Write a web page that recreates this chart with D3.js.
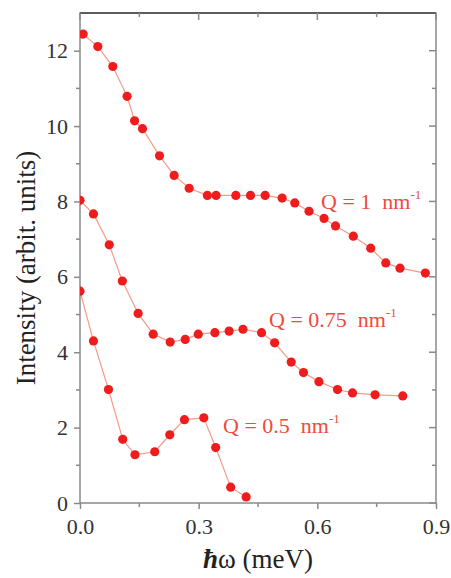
<!DOCTYPE html>
<meta charset="utf-8">
<title>Intensity vs energy</title>
<style>
body {
  margin: 0;
  background: #fff;
}
svg text {
  font-family: "Liberation Serif", "Times New Roman", serif;
  white-space: pre;
}
.tick-label {
  font-size: 22px;
  fill: #333;
}
.axis-title {
  font-size: 27px;
  fill: #222;
}
.series-label {
  font-size: 22px;
  fill: #f04a3a;
}
</style>
<body>
<svg width="451" height="578"></svg>

<script src="https://d3js.org/d3.v7.min.js"></script>
<script>
// Q = 1 nm^-1
var q1X = [0.008, 0.045, 0.083, 0.119, 0.138, 0.158, 0.201, 0.238, 0.276, 0.322, 0.344, 0.394, 0.431, 0.468, 0.511,
           0.543, 0.579, 0.617, 0.646, 0.691, 0.735, 0.773, 0.809, 0.873];
var q1Y = [12.44, 12.11, 11.58, 10.79, 10.14, 9.93, 9.21, 8.69, 8.35, 8.16, 8.16, 8.16, 8.16, 8.16, 8.09,
           7.96, 7.74, 7.55, 7.35, 7.08, 6.76, 6.37, 6.23, 6.10];

// Q = 0.75 nm^-1
var q075X = [0.0, 0.034, 0.074, 0.107, 0.147, 0.185, 0.228, 0.266, 0.299, 0.341, 0.377, 0.412, 0.459, 0.492,
             0.534, 0.565, 0.604, 0.651, 0.689, 0.746, 0.816];
var q075Y = [8.03, 7.67, 6.85, 5.89, 5.03, 4.48, 4.27, 4.34, 4.48, 4.52, 4.56, 4.61, 4.52, 4.25,
             3.74, 3.46, 3.22, 3.01, 2.92, 2.87, 2.84];

// Q = 0.5 nm^-1
var q05X = [0.0, 0.034, 0.072, 0.108, 0.139, 0.189, 0.227, 0.264, 0.313, 0.343, 0.381, 0.420];
var q05Y = [5.62, 4.30, 3.01, 1.69, 1.28, 1.36, 1.81, 2.21, 2.26, 1.47, 0.42, 0.16];

var seriesLabels = ["Q = 1  nm", "Q = 0.75  nm", "Q = 0.5  nm"];

var xTicks = [0, 0.3, 0.6, 0.9];
var xMinor = [0.15, 0.45, 0.75];
var yTicks = [0, 2, 4, 6, 8, 10, 12];
var yMinor = [1, 3, 5, 7, 9, 11];

var svg = d3.select("svg");
var pLeft = 80, pRight = 436, pTop = 13, pBottom = 503;

var x = d3.scaleLinear().domain([0, 0.9]).range([pLeft, pRight]);
var y = d3.scaleLinear().domain([0, 13]).range([pBottom, pTop]);

var axisColor = "#8a8a8a";

// frame
svg.append("rect")
    .attr("x", pLeft).attr("y", pTop)
    .attr("width", pRight - pLeft).attr("height", pBottom - pTop)
    .attr("fill", "none").attr("stroke", axisColor).attr("stroke-width", 1.5);
svg.append("line")
    .attr("x1", pLeft).attr("x2", pRight).attr("y1", pTop).attr("y2", pTop)
    .attr("stroke", "#444").attr("stroke-width", 1.5);

// bottom axis, ticks outward
var bx = svg.append("g").attr("transform", "translate(0," + pBottom + ")")
    .call(d3.axisBottom(x).tickValues(xTicks).tickSize(6).tickPadding(4).tickFormat(d3.format(".1f")));
bx.attr("font-family", null).attr("font-size", null);
bx.select(".domain").remove();
bx.selectAll("line").attr("stroke", axisColor).attr("stroke-width", 1.5);
bx.selectAll("text").attr("class", "tick-label").attr("fill", null).attr("dy", "0.95em")
    .style("font-family", "'Liberation Serif', 'Times New Roman', serif");
svg.append("g").selectAll("line").data(xMinor).enter().append("line")
    .attr("x1", x).attr("x2", x).attr("y1", pBottom).attr("y2", pBottom + 4)
    .attr("stroke", axisColor).attr("stroke-width", 1.5);

// top axis, ticks inward
svg.append("g").selectAll("line").data(xTicks.concat(xMinor)).enter().append("line")
    .attr("x1", x).attr("x2", x).attr("y1", pTop)
    .attr("y2", function(d) { return pTop + (xTicks.indexOf(d) >= 0 ? 7 : 4); })
    .attr("stroke", axisColor).attr("stroke-width", 1.5);

// left axis, ticks outward
var ly = svg.append("g").attr("transform", "translate(" + pLeft + ",0)")
    .call(d3.axisLeft(y).tickValues(yTicks).tickSize(6).tickPadding(6));
ly.attr("font-family", null).attr("font-size", null);
ly.select(".domain").remove();
ly.selectAll("line").attr("stroke", axisColor).attr("stroke-width", 1.5);
ly.selectAll("text").attr("class", "tick-label").attr("fill", null)
    .style("font-family", "'Liberation Serif', 'Times New Roman', serif");
svg.append("g").selectAll("line").data(yMinor).enter().append("line")
    .attr("x1", pLeft - 4).attr("x2", pLeft).attr("y1", y).attr("y2", y)
    .attr("stroke", axisColor).attr("stroke-width", 1.5);

// right axis, ticks inward
svg.append("g").selectAll("line").data(yTicks.concat(yMinor)).enter().append("line")
    .attr("x1", function(d) { return pRight - (yTicks.indexOf(d) >= 0 ? 7 : 4); })
    .attr("x2", pRight).attr("y1", y).attr("y2", y)
    .attr("stroke", axisColor).attr("stroke-width", 1.5);

// clip to plot area
svg.append("clipPath").attr("id", "plot")
  .append("rect").attr("x", pLeft).attr("y", pTop)
    .attr("width", pRight - pLeft).attr("height", pBottom - pTop);

var series = [
  { xs: q1X, ys: q1Y },
  { xs: q075X, ys: q075Y },
  { xs: q05X, ys: q05Y }
];

var line = d3.line()
    .x(function(d) { return x(d[0]); })
    .y(function(d) { return y(d[1]); });

var plot = svg.append("g").attr("clip-path", "url(#plot)");

series.forEach(function(s) {
  var pts = s.xs.map(function(v, i) { return [v, s.ys[i]]; });
  plot.append("path")
      .datum(pts)
      .attr("d", line)
      .attr("fill", "none")
      .attr("stroke", "#f59a88")
      .attr("stroke-width", 1.2);
  plot.selectAll(null).data(pts).enter().append("circle")
      .attr("cx", function(d) { return x(d[0]); })
      .attr("cy", function(d) { return y(d[1]); })
      .attr("r", 4.6)
      .attr("fill", "#ee1c1c");
});

// series labels
var labelPos = [[321, 209], [269, 327], [223, 433]];
seriesLabels.forEach(function(t, i) {
  var tx = svg.append("text").attr("class", "series-label")
      .attr("x", labelPos[i][0]).attr("y", labelPos[i][1])
      .text(t);
  tx.append("tspan").attr("dy", -10).attr("font-size", 13).text("-1");
});

// axis titles
svg.append("text").attr("class", "axis-title")
    .attr("transform", "translate(35,268) rotate(-90)")
    .attr("text-anchor", "middle")
    .text("Intensity (arbit. units)");

var xt = svg.append("text").attr("class", "axis-title")
    .attr("x", 258).attr("y", 568)
    .attr("text-anchor", "middle");
xt.append("tspan").attr("font-style", "italic").attr("font-weight", "bold").text("\u0127");
xt.append("tspan").text("\u03c9 (meV)");
</script>
</body>
